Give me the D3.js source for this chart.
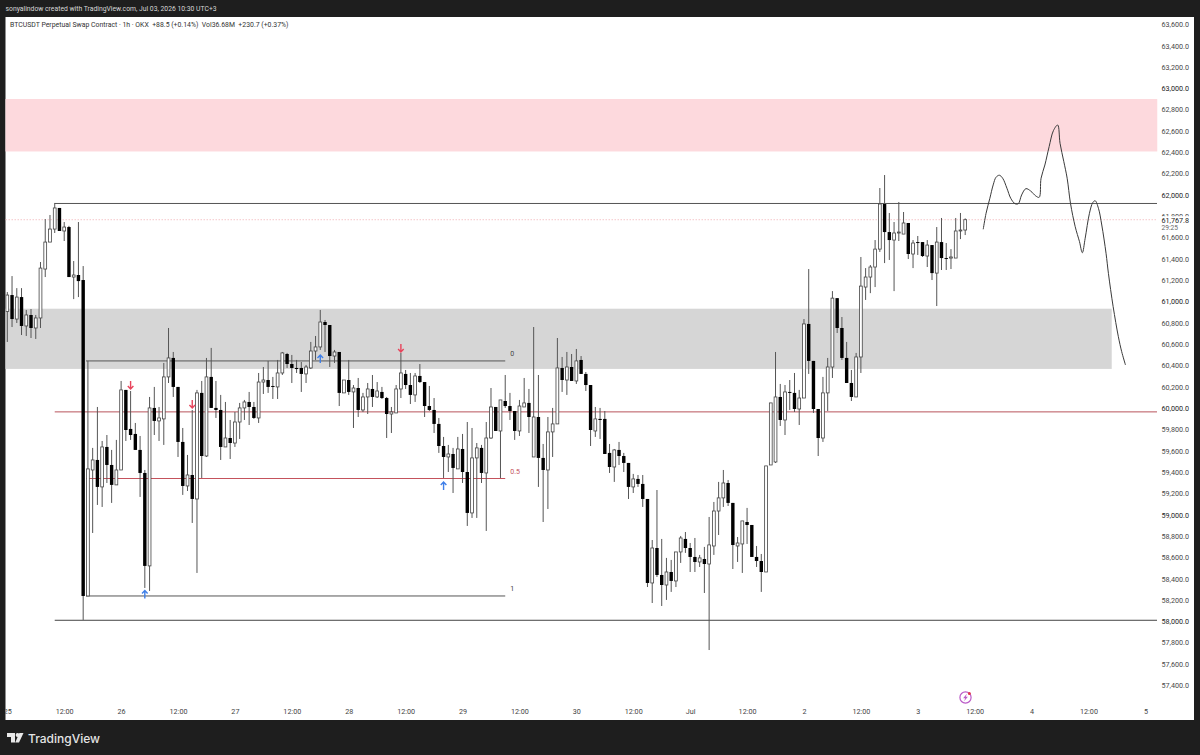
<!DOCTYPE html>
<html>
<head>
<meta charset="utf-8">
<script src="https://cdn.jsdelivr.net/npm/d3@7/dist/d3.min.js"></script>
<style>
html,body{margin:0;padding:0;background:#1e1e1e;overflow:hidden}
svg{display:block}
text{font-family:Roboto,"Noto Sans",sans-serif;white-space:pre}
</style>
</head>
<body>
<svg id="chart" width="1200" height="755"></svg>
<script>
// BTCUSDT hourly candles, hour 0 = Jun 25 00:00
const opens = [
60906,61061,60836,61042,60771,60874,60752,60846,61305,61558,
61680,61878,61662,61699,61230,61249,61202,58238,59420,59514,
59261,59636,59467,59280,59420,60171,59805,59758,59608,59392,
58520,60002,59880,59899,60293,60471,60199,59683,59270,59373,
59148,60143,59551,60293,60002,59983,59636,59720,59673,59870,
60002,60058,60011,59908,60245,60264,60208,60199,60330,60508,
60414,60377,60377,60321,60377,60536,60574,60808,60780,60489,
60527,60143,60264,60152,60189,59983,60105,60180,60105,60152,
60095,59945,59955,60180,60321,60217,60124,60302,60245,60020,
59983,59852,59645,59542,59570,59430,59617,59401,59017,59533,
59627,59392,59720,60011,59786,60067,60020,59973,59786,60011,
60049,59542,59917,59533,59420,59777,59852,60377,60264,60386,
60255,60452,60321,60217,59786,59899,59899,59580,59448,59608,
59551,59486,59261,59336,59289,59148,58360,58688,58435,58341,
58463,58379,58651,58773,58688,58604,58557,58585,58538,58707,
59035,59158,59298,59111,58707,58726,58932,58904,58604,58566,
58463,59467,59495,60105,59889,60152,60143,59992,60095,60790,
60443,59992,59720,60143,60386,61032,60752,60471,60236,60105,
60480,61136,61230,61324,61492,61915,61652,61577,61643,61633,
61737,61446,61558,61558,61427,61530,61267,61558,61408,61408,
61408,61662,61671];
const highs = [
61089,61239,61126,61126,60921,60930,60874,61371,61774,61812,
61925,61878,61746,61710,61380,61746,61333,59430,59627,60011,
59692,59748,59608,59702,60255,60171,60161,59861,59739,59420,
60105,60199,60011,60424,60752,60527,60199,59814,59561,59983,
60171,60255,60471,60565,60255,60124,60058,59889,59964,60049,
60077,60152,60058,60330,60386,60443,60293,60452,60527,60518,
60499,60452,60433,60405,60621,60677,60921,60827,60780,60546,
60527,60264,60452,60217,60283,60143,60236,60311,60245,60199,
60105,60011,60217,60518,60358,60330,60330,60414,60245,60208,
60095,59908,59730,59655,59627,59730,59758,59870,59814,59673,
59655,59870,60189,60011,60077,60311,60143,59973,60077,60283,
60180,60761,60311,59664,59917,60002,60658,60480,60527,60508,
60555,60489,60339,60217,60011,60002,59973,59664,59617,59683,
59580,59486,59383,59373,59373,59148,58763,59232,58773,58595,
58576,58651,58801,58838,58735,58782,58623,58698,58979,59120,
59308,59420,59326,59111,58791,58942,59064,58904,58707,58632,
59458,60049,60527,60227,60217,60264,60330,60171,60836,61305,
60443,59992,60293,60471,61098,61032,60855,60621,60358,60518,
61418,61314,61343,61577,62065,62187,61831,61746,61934,61840,
61737,61577,61615,61558,61577,61530,61699,61784,61549,61492,
61784,61831,61780];
const lows = [
60621,60761,60799,60686,60677,60658,60649,60752,61230,61558,
61643,61662,61568,61230,61023,61042,58013,58238,58829,59092,
59073,59298,59111,59280,59420,59692,59702,59608,59167,58313,
58285,59748,59692,59655,60236,60105,59542,59186,59223,58923,
58454,59345,59542,60002,59908,59514,59636,59523,59636,59711,
59889,59842,59899,59861,60133,60143,60086,60086,60311,60377,
60236,60330,60152,60236,60367,60452,60546,60527,60386,60424,
60020,60143,60124,59814,59917,59964,59945,60011,60095,60086,
59720,59767,59955,60095,60180,60039,60058,60236,59917,59973,
59767,59580,59345,59401,59204,59430,59298,58895,58970,58970,
59298,58848,59711,59786,59345,60002,59889,59702,59739,60011,
59767,59542,59261,58932,59054,59542,59852,60152,60124,60255,
60227,60321,60161,59645,59730,59711,59570,59392,59308,59467,
59401,59148,59204,59261,59073,58322,58172,58416,58144,58201,
58276,58322,58548,58642,58463,58463,58510,58266,57731,58623,
58810,59073,59082,58491,58557,58454,58726,58604,58510,58276,
58463,59467,59486,59833,59748,59983,59964,59842,60095,60321,
59955,59551,59683,59973,60283,60705,60452,60236,60067,60105,
60330,61015,61079,61136,61465,61361,61390,61098,61568,61633,
61399,61314,61437,61418,61324,61202,60958,61296,61296,61305,
61408,61586,61624];
const closes = [
61061,60836,61042,60771,60874,60752,60846,61314,61558,61680,
61878,61662,61699,61230,61249,61192,58238,59430,59514,59261,
59636,59467,59280,59420,60171,59795,59748,59608,59392,58520,
60002,59880,59908,60293,60471,60199,59683,59270,59373,59148,
60143,59551,60293,60002,59983,59636,59720,59673,59870,60002,
60058,60011,59908,60245,60264,60199,60199,60330,60518,60414,
60377,60367,60321,60386,60536,60574,60808,60780,60489,60527,
60143,60264,60152,60189,59983,60105,60180,60105,60161,60095,
59945,59964,60180,60330,60217,60124,60302,60245,60020,59983,
59852,59645,59542,59570,59439,59617,59401,59017,59533,59627,
59392,59720,60011,59786,60077,60020,59973,59786,60020,60049,
59917,59917,59533,59420,59777,59852,60377,60264,60386,60255,
60443,60321,60217,59795,59899,59889,59570,59448,59608,59551,
59486,59261,59336,59289,59148,58360,58688,58435,58341,58463,
58379,58651,58782,58688,58604,58557,58595,58538,58717,59035,
59158,59298,59111,58716,58735,58942,58904,58604,58566,58463,
59458,60049,60105,59889,60152,60143,59992,60095,60790,60443,
59992,59720,60143,60386,61032,60752,60471,60236,60105,60480,
61145,61230,61324,61492,61915,61652,61577,61643,61652,61737,
61446,61549,61549,61427,61530,61267,61558,61408,61399,61418,
61662,61671,61767.8];

// Price axis and time axis labels
const priceTicks = [63600,63400,63200,63000,62800,62600,62400,62200,62000,61800,61600,61400,61200,61000,
  60800,60600,60400,60200,60000,59800,59600,59400,59200,59000,58800,58600,58400,58200,58000,57800,57600,57400];
const timeTickHours = [0,12,24,36,48,60,72,84,96,108,120,132,144,156,168,180,192,204,216,228,240];
const timeTickLabels = ["25","12:00","26","12:00","27","12:00","28","12:00","29","12:00","30","12:00",
  "Jul","12:00","2","12:00","3","12:00","4","12:00","5"];

// Supply and demand zones
const zoneHighs = [62900, 60933];
const zoneLows = [62408, 60368];
const zoneEnds = [242.5, 232.9];
const zoneColors = ["#fdd9dd", "#d6d6d6"];

// Horizontal levels
const levelPrices = [61920, 59965, 58010];
const levelColors = ["#555555", "#b8545c", "#444444"];

// Fibonacci retracement drawn over the Jun 25 drop
const fibRatios = ["0", "0.5", "1"];
const fibPrices = [60443, 59340, 58238];
const fibColors = ["#555555", "#c4525c", "#555555"];

// Signal arrows
const signalHours = [26, 39, 66, 83, 92, 29];
const signalPrices = [60180, 60002, 60499, 60527, 59308, 58290];
const signalDirs = [-1, -1, 1, -1, 1, 1];

// Hand-drawn projection
const sketchHours = [205.8,206.4,207.2,207.9,208.5,209.2,209.9,210.8,211.6,212.5,213.2,213.9,214.8,215.8,216.9,217.6,218,218.8,219.7,220.6,221.5,222,222.8,223.5,224.2,225.2,226.1,226.7,227.3,228.2,228.9,229.4,230.1,230.8,231.7,232.2,233.2,234.3,235,235.8];
const sketchPrices = [61678,61828,61969,62094,62166,62185,62157,62063,61969,61918,61918,62000,62059,62037,61990,61978,62157,62281,62453,62603,62656,62485,62312,62157,61922,61702,61562,61458,61594,61828,61928,61946,61875,61718,61453,61265,60952,60670,60530,60405];

const lastPrice = closes[closes.length - 1];

const svg = d3.select("#chart");
const panel = {left: 5.5, right: 1194, top: 17, bottom: 720};
const plotRight = 1157;

const x = d3.scaleLinear().domain([0, 240]).range([7.3, 1145.4]);
const y = d3.scaleLinear().domain([63600, 57400]).range([24.4, 685.3]);

svg.append("defs").append("clipPath").attr("id", "panelClip").append("rect")
  .attr("x", panel.left).attr("y", panel.top)
  .attr("width", panel.right - panel.left).attr("height", panel.bottom - panel.top);

// White chart panel inside the dark frame
svg.append("rect").attr("x", panel.left).attr("y", panel.top)
  .attr("width", panel.right - panel.left).attr("height", panel.bottom - panel.top)
  .attr("fill", "#ffffff");

// Zones
svg.append("g").selectAll("rect").data(zoneHighs).join("rect")
  .attr("x", panel.left)
  .attr("y", d => y(d))
  .attr("width", (d, i) => x(zoneEnds[i]) - panel.left)
  .attr("height", (d, i) => y(zoneLows[i]) - y(d))
  .attr("fill", (d, i) => zoneColors[i]);

// Last price line
svg.append("line").attr("x1", panel.left).attr("x2", plotRight)
  .attr("y1", y(lastPrice)).attr("y2", y(lastPrice))
  .attr("stroke", "#f2b8bd").attr("stroke-width", 0.8).attr("stroke-dasharray", "1.5 1.5");

// Horizontal levels
svg.append("g").selectAll("line").data(levelPrices).join("line")
  .attr("x1", x(10)).attr("x2", plotRight)
  .attr("y1", d => y(d)).attr("y2", d => y(d))
  .attr("stroke", (d, i) => levelColors[i]).attr("stroke-width", 1);

// Fibonacci lines, anchor and ratio labels
const fib = svg.append("g");
fib.selectAll("line.fib").data(fibPrices).join("line").attr("class", "fib")
  .attr("x1", x(16.6)).attr("x2", x(105))
  .attr("y1", d => y(d)).attr("y2", d => y(d))
  .attr("stroke", (d, i) => fibColors[i]).attr("stroke-width", 1);
fib.append("line").attr("x1", x(17)).attr("x2", x(17))
  .attr("y1", y(fibPrices[0])).attr("y2", y(fibPrices[2]))
  .attr("stroke", "#555555").attr("stroke-width", 1);
fib.selectAll("text").data(fibPrices).join("text")
  .attr("x", x(105) + 5)
  .attr("y", d => y(d) - 4.5)
  .attr("font-size", 7)
  .attr("fill", (d, i) => fibColors[i] === "#555555" ? "#444444" : "#c4525c")
  .text((d, i) => fibRatios[i]);

// Candles
const candles = svg.append("g").attr("clip-path", "url(#panelClip)")
  .selectAll("g").data(opens).join("g");
candles.append("line")
  .attr("x1", (d, i) => x(i)).attr("x2", (d, i) => x(i))
  .attr("y1", (d, i) => y(highs[i])).attr("y2", (d, i) => y(lows[i]))
  .attr("stroke", "#555555").attr("stroke-width", 1);
candles.append("rect")
  .attr("x", (d, i) => x(i) - (closes[i] >= d ? 1.4 : 1.7))
  .attr("y", (d, i) => y(Math.max(d, closes[i])))
  .attr("width", (d, i) => closes[i] >= d ? 2.8 : 3.4)
  .attr("height", (d, i) => Math.max(0.8, Math.abs(y(d) - y(closes[i]))))
  .attr("fill", (d, i) => closes[i] >= d ? "#ffffff" : "#000000")
  .attr("stroke", (d, i) => closes[i] >= d ? "#444444" : "none")
  .attr("stroke-width", 0.8);

// Signal arrows
svg.append("g").selectAll("path").data(signalHours).join("path")
  .attr("transform", (d, i) => `translate(${x(d)},${y(signalPrices[i])}) scale(1,${signalDirs[i]})`)
  .attr("d", "M0,0 L0,8 M-2.8,3 L0,0 L2.8,3")
  .attr("fill", "none")
  .attr("stroke", (d, i) => signalDirs[i] < 0 ? "#e8445c" : "#3f7fe8")
  .attr("stroke-width", 1.4);

// Hand-drawn projection
svg.append("path")
  .datum(sketchHours)
  .attr("fill", "none")
  .attr("stroke", "#3a3a3a")
  .attr("stroke-width", 1)
  .attr("d", d3.line().x(d => x(d)).y((d, i) => y(sketchPrices[i])).curve(d3.curveCatmullRom));

// Price axis
const priceAxis = d3.axisRight(y).tickValues(priceTicks).tickSize(0).tickPadding(0)
  .tickFormat(d3.format(",.1f"));
const priceG = svg.append("g").attr("transform", "translate(1161.5,0)").call(priceAxis);
priceG.select(".domain").remove();
priceG.selectAll("text")
  .attr("font-size", 7.2)
  .attr("font-family", "Roboto,sans-serif")
  .attr("fill", d => d % 1000 === 0 ? "#1c1c1c" : "#484848");

// Time axis, clipped so the first label is cut at the panel edge
const timeAxis = d3.axisBottom(x).tickValues(timeTickHours).tickSize(0).tickPadding(0)
  .tickFormat((d, i) => timeTickLabels[i]);
const timeG = svg.append("g").attr("clip-path", "url(#panelClip)")
  .append("g").attr("transform", "translate(0,708.5)").call(timeAxis);
timeG.select(".domain").remove();
timeG.selectAll("text")
  .attr("font-size", 7.2)
  .attr("font-family", "Roboto,sans-serif")
  .attr("fill", "#444444");

// Last price and countdown
svg.append("rect").attr("x", 1160).attr("y", y(lastPrice) - 3.5).attr("width", 32).attr("height", 13).attr("fill", "#ffffff");
svg.append("text").attr("x", 1161.5).attr("y", y(lastPrice) + 2.8).attr("font-size", 7.2).attr("fill", "#222222")
  .text(d3.format(",.1f")(lastPrice));
svg.append("text").attr("x", 1161.5).attr("y", y(lastPrice) + 10).attr("font-size", 6.6).attr("fill", "#666666").text("29:25");

// Legend line and attribution strip
svg.append("text").attr("x", 5.5).attr("y", 10.5).attr("font-size", 6.8).attr("fill", "#d8d8d8")
  .text("sonyalindow created with TradingView.com, Jul 03, 2026 10:30 UTC+3");
svg.append("text").attr("x", 10).attr("y", 26.5).attr("font-size", 6.9).attr("fill", "#333333")
  .text("BTCUSDT Perpetual Swap Contract · 1h · OKX  +88.5 (+0.14%)  Vol36.68M  +230.7 (+0.37%)");

// Alert badge
const badge = svg.append("g").attr("transform", "translate(965.5,697.5)");
badge.append("circle").attr("r", 5.6).attr("fill", "#ffffff").attr("stroke", "#bb5cc8").attr("stroke-width", 1.2);
badge.append("path").attr("d", "M1.4,-3.8 L-2.4,0.7 L-0.3,0.7 L-1.4,3.8 L2.4,-0.7 L0.3,-0.7 Z").attr("fill", "#bb5cc8");
badge.append("circle").attr("cx", 3.9).attr("cy", -3.9).attr("r", 1.5).attr("fill", "#e0344c");

// TradingView wordmark
const logo = svg.append("g").attr("transform", "translate(7,733)").attr("fill", "#e8e8e8");
logo.append("path").attr("d", "M0,0 H8 V9.5 H4 V4 H0 Z");
logo.append("circle").attr("cx", 10.6).attr("cy", 2).attr("r", 2);
logo.append("path").attr("d", "M12,9.5 H8.2 L12.4,0 H16.5 Z");
svg.append("text").attr("x", 28).attr("y", 742.5).attr("font-size", 12).attr("font-weight", 500)
  .attr("fill", "#e4e4e4").style("font-family", "Inter,Roboto,sans-serif").text("TradingView");
</script>
</body>
</html>
